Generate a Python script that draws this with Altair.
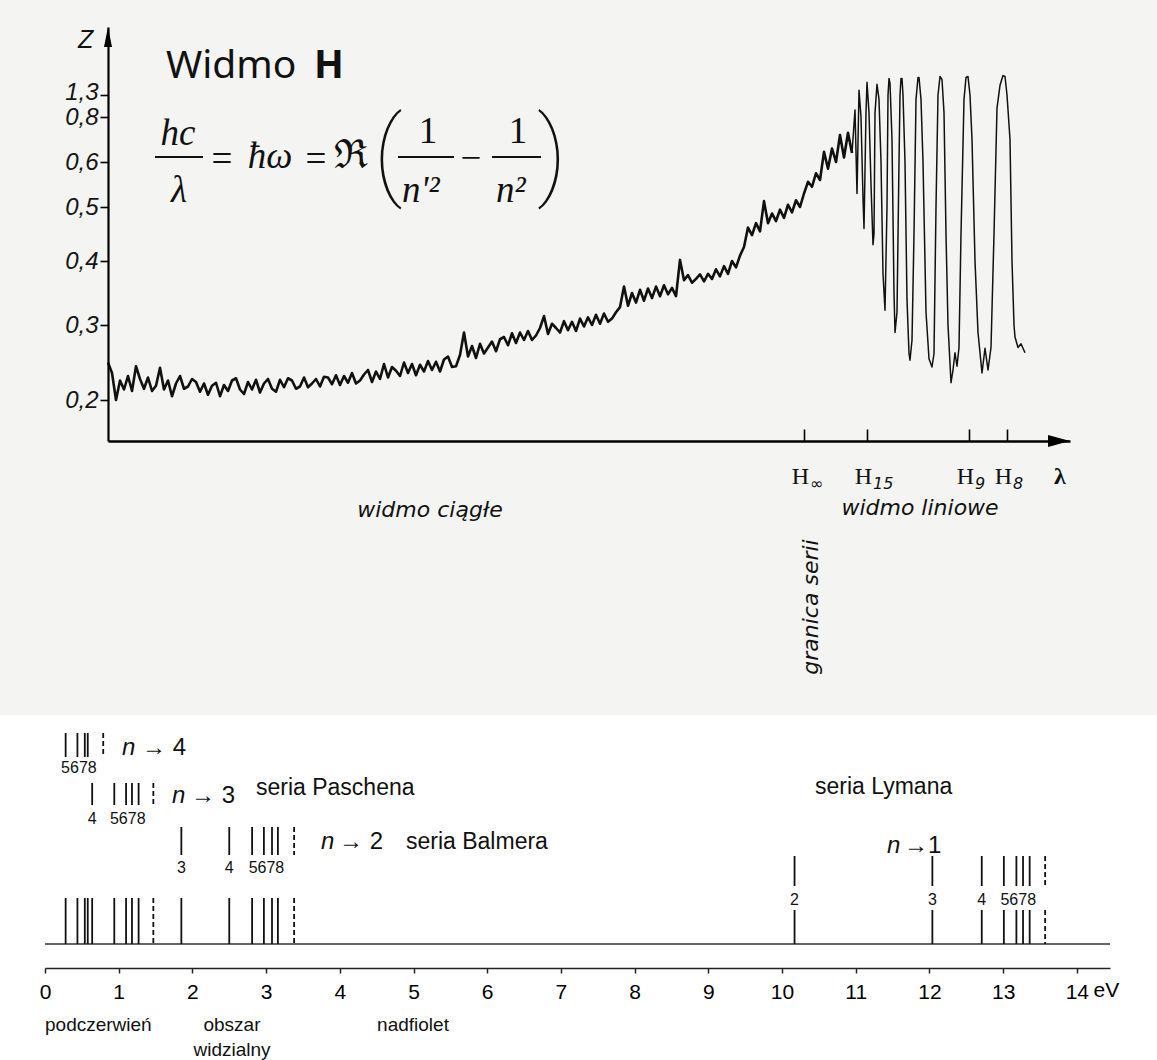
import altair as alt
import pandas as pd

# ---------------- top panel: measured hydrogen spectrum ----------------
# relative wavelength position (arbitrary units along the lambda axis)
cont_lam = list(range(0, 745, 4))
cont_z = [0.250, 0.236, 0.200, 0.226, 0.214, 0.232, 0.212, 0.245, 0.228, 0.215,
          0.230, 0.212, 0.219, 0.243, 0.214, 0.226, 0.205, 0.222, 0.232, 0.215,
          0.218, 0.228, 0.224, 0.211, 0.222, 0.207, 0.219, 0.223, 0.205, 0.220,
          0.212, 0.226, 0.229, 0.214, 0.208, 0.224, 0.214, 0.227, 0.210, 0.222,
          0.228, 0.215, 0.211, 0.227, 0.217, 0.229, 0.226, 0.215, 0.218, 0.230,
          0.217, 0.222, 0.228, 0.218, 0.231, 0.230, 0.221, 0.233, 0.220, 0.232,
          0.223, 0.236, 0.222, 0.226, 0.234, 0.240, 0.224, 0.238, 0.228, 0.248,
          0.230, 0.244, 0.239, 0.232, 0.250, 0.236, 0.248, 0.233, 0.247, 0.238,
          0.252, 0.240, 0.251, 0.238, 0.254, 0.258, 0.244, 0.245, 0.260, 0.290,
          0.258, 0.272, 0.256, 0.275, 0.262, 0.270, 0.278, 0.265, 0.281, 0.284,
          0.273, 0.289, 0.276, 0.290, 0.280, 0.292, 0.280, 0.286, 0.296, 0.314,
          0.288, 0.302, 0.296, 0.290, 0.306, 0.293, 0.305, 0.292, 0.310, 0.298,
          0.312, 0.300, 0.316, 0.302, 0.318, 0.305, 0.310, 0.320, 0.328, 0.360,
          0.330, 0.350, 0.335, 0.355, 0.338, 0.357, 0.342, 0.360, 0.345, 0.362,
          0.348, 0.358, 0.345, 0.402, 0.370, 0.378, 0.366, 0.372, 0.379, 0.368,
          0.380, 0.372, 0.387, 0.376, 0.392, 0.380, 0.400, 0.390, 0.410, 0.426,
          0.462, 0.448, 0.470, 0.455, 0.513, 0.470, 0.488, 0.474, 0.495, 0.480,
          0.505, 0.490, 0.515, 0.500, 0.530, 0.556, 0.545, 0.575, 0.560, 0.645,
          0.585, 0.660, 0.600, 0.720, 0.620, 0.730, 0.640]

line_lam = [744, 747, 749, 751, 753, 755, 756, 758, 759, 761,
            763, 765, 766, 767, 769, 771, 773, 775, 777, 779,
            780, 781, 782, 784, 786, 787, 789, 791, 792, 793,
            794, 795, 797, 799, 801, 802, 804, 806, 808, 810,
            811, 813, 815, 818, 821, 824, 826, 828, 830, 832,
            834, 836, 838, 840, 843, 845, 847, 849, 851, 853,
            856, 858, 860, 862, 864, 867, 870, 874, 877, 880,
            883, 886, 889, 892, 895, 897, 899, 902, 904, 906,
            907, 910, 913, 917]
line_z = [0.64, 0.96, 0.53, 1.35, 0.80, 0.52, 0.46, 0.90, 1.43, 0.90,
          0.55, 0.43, 0.45, 0.90, 1.41, 1.20, 0.60, 0.38, 0.323, 0.50,
          1.30, 1.47, 1.42, 0.70, 0.35, 0.29, 0.32, 0.60, 1.30, 1.47,
          1.47, 1.30, 0.60, 0.34, 0.262, 0.253, 0.28, 0.45, 1.20, 1.48,
          1.48, 1.20, 0.60, 0.32, 0.255, 0.244, 0.262, 0.50, 1.30, 1.49,
          1.46, 0.90, 0.45, 0.30, 0.223, 0.24, 0.263, 0.245, 0.27, 0.45,
          1.20, 1.48, 1.49, 1.30, 0.70, 0.40, 0.29, 0.236, 0.269, 0.24,
          0.27, 0.45, 1.00, 1.40, 1.50, 1.49, 1.30, 0.70, 0.40, 0.30,
          0.284, 0.27, 0.275, 0.263]

z_ticks = [0.2, 0.3, 0.4, 0.5, 0.6, 0.8, 1.3]
h_tick_lam = [696, 759, 861, 899]
h_tick_main = ["H", "H", "H", "H"]
h_tick_sub = ["\u221e", "15", "9", "8"]

# ---------------- bottom panel: hydrogen series (eV) ----------------
brackett_n = [5, 6, 7, 8]
brackett_ev = [0.28, 0.44, 0.54, 0.58]
brackett_lim = [0.79]
paschen_n = [4, 5, 6, 7, 8]
paschen_ev = [0.64, 0.94, 1.10, 1.18, 1.27]
paschen_lim = [1.47]
balmer_n = [3, 4, 5, 6, 7, 8]
balmer_ev = [1.85, 2.50, 2.81, 2.97, 3.08, 3.16]
balmer_lim = [3.38]
lyman_n = [2, 3, 4, 5, 6, 7, 8]
lyman_ev = [10.17, 12.04, 12.71, 13.01, 13.18, 13.27, 13.36]
lyman_lim = [13.57]
ev_ticks = list(range(0, 15))

# ---------------- scales & axes ----------------
lam_scale = alt.Scale(domain=[0, 962], range=[108, 1070], nice=False, zero=False)
lam_axis = alt.Axis(orient="top", offset=-441, values=h_tick_lam, labels=False, title=None,
                    grid=False, domainColor="black", domainWidth=2.6, tickColor="black",
                    tickWidth=1.6, tickSize=12, zindex=2)
z_scale = alt.Scale(domain=[0.145, 0.2, 0.3, 0.4, 0.5, 0.6, 0.8, 1.3, 2.0],
                    range=[441, 400, 325, 261, 207, 162, 117, 95, 27], nice=False, zero=False)
z_axis = alt.Axis(orient="left", offset=-108, values=z_ticks, title=None, grid=False,
                  labelExpr="replace(format(datum.value, '.1f'), '.', ',')",
                  domainColor="black", domainWidth=2.2, tickColor="black", tickWidth=1.6,
                  tickSize=8, labelFont="Liberation Sans Narrow, Liberation Sans",
                  labelFontStyle="italic", labelFontSize=24, labelColor="#151515",
                  labelPadding=2, labelOverlap=False, labelFlush=False, labelBaseline="middle",
                  labelOffset={"condition": {"test": "datum.value > 1", "value": -3},
                               "value": 0},
                  zindex=2)
X_lam = alt.X("lam:Q", scale=lam_scale, axis=lam_axis)
Y_z = alt.Y("z:Q", scale=z_scale, axis=z_axis)

ev_scale = alt.Scale(domain=[0, 14.45], range=[45, 1110], nice=False, zero=False)
ev_axis = alt.Axis(orient="bottom", offset=-92, values=ev_ticks, title=None, grid=False,
                   domainColor="#222", domainWidth=1.6, tickColor="#222", tickWidth=1.5,
                   tickSize=5, labelFont="Liberation Sans", labelFontSize=21,
                   labelColor="black", labelPadding=8, labelOverlap=False, labelFlush=False,
                   zindex=2)
X_ev = alt.X("ev:Q", scale=ev_scale, axis=ev_axis)

one = pd.DataFrame({"k": [0]})


def txt(s, x, y, size, font="Liberation Sans", style="normal", weight="normal",
        align="left", baseline="alphabetic", angle=0, color="#111"):
    return alt.Chart(one).mark_text(
        text=s, font=font, fontSize=size, fontStyle=style, fontWeight=weight,
        align=align, baseline=baseline, angle=angle, color=color
    ).encode(x=alt.value(x), y=alt.value(y))


def hbar(x1, x2, y, w=1.8):
    return alt.Chart(one).mark_rule(color="#111", strokeWidth=w).encode(
        x=alt.value(x1), x2=alt.value(x2), y=alt.value(y))


# background paper tone for the scanned upper part
bg = alt.Chart(one).mark_rect(color="#f4f4f2").encode(
    x=alt.value(0), x2=alt.value(1157), y=alt.value(0), y2=alt.value(715))

cont_df = pd.DataFrame({"lam": cont_lam, "z": cont_z})
line_df = pd.DataFrame({"lam": line_lam, "z": line_z})
htick_df = pd.DataFrame({"lam": h_tick_lam, "main": h_tick_main, "sub": h_tick_sub})

cont = alt.Chart(cont_df).mark_line(color="#111", strokeWidth=2.6, strokeJoin="round").encode(x=X_lam, y=Y_z)
lines = alt.Chart(line_df).mark_line(color="#111", strokeWidth=1.5, strokeJoin="round").encode(x=X_lam, y=Y_z)
arrow_up = alt.Chart(pd.DataFrame({"lam": [0], "z": [2.0]})).mark_point(
    shape="M0,-1L0.4,1L-0.4,1Z", size=400, filled=True, color="black", opacity=1, yOffset=10
).encode(x=X_lam, y=Y_z)
arrow_right = alt.Chart(pd.DataFrame({"lam": [962], "z": [0.145]})).mark_point(
    shape="M1,0L-1,-0.55L-1,0.55Z", size=484, filled=True, color="black", opacity=1, xOffset=-11
).encode(x=X_lam, y=Y_z)
hmain = alt.Chart(htick_df).mark_text(font="Liberation Serif", fontSize=24, align="right",
                                      dx=5, color="#111").encode(x=X_lam, y=alt.value(477), text="main:N")
hsub = alt.Chart(htick_df).mark_text(font="DejaVu Sans", fontStyle="italic", fontSize=16,
                                     align="left", dx=6, color="#111").encode(x=X_lam, y=alt.value(484), text="sub:N")
lam_lbl = alt.Chart(pd.DataFrame({"lam": [952]})).mark_text(
    text="\u03bb", font="Liberation Serif", fontSize=24, fontWeight="bold", color="#111"
).encode(x=X_lam, y=alt.value(477))

spectrum = alt.layer(cont, lines, arrow_up, arrow_right, hmain, hsub, lam_lbl)

# ---------------- energy diagram layers ----------------
def rules(evs, y1, y2, dashed=False, w=1.8):
    kw = {"strokeDash": [5, 3]} if dashed else {}
    return alt.Chart(pd.DataFrame({"ev": evs})).mark_rule(color="#111", strokeWidth=w, **kw).encode(
        x=X_ev, y=alt.value(y1), y2=alt.value(y2))


def nums(evs, labels, y, size=16):
    return alt.Chart(pd.DataFrame({"ev": evs, "t": labels})).mark_text(
        font="Liberation Sans", fontSize=size, baseline="middle", color="#111"
    ).encode(x=X_ev, y=alt.value(y), text="t:N")


def mean(v):
    return sum(v) / len(v)


baseline = alt.Chart(pd.DataFrame({"ev": [0], "ev2": [14.45]})).mark_rule(
    color="#333", strokeWidth=1.6).encode(x=X_ev, x2="ev2:Q", y=alt.value(944))

energy_layers = [
    baseline,
    rules(brackett_ev + paschen_ev + balmer_ev, 898, 944),
    rules(paschen_lim + balmer_lim, 898, 944, dashed=True),
    rules(lyman_ev, 856, 886),
    rules(lyman_ev, 910, 944),
    rules(lyman_lim, 856, 886, dashed=True),
    rules(lyman_lim, 910, 944, dashed=True),
    nums([lyman_ev[0], lyman_ev[1], lyman_ev[2], mean(lyman_ev[3:])],
         ["2", "3", "4", "5678"], 900),
    # n -> 4
    rules(brackett_ev, 733, 757),
    rules(brackett_lim, 733, 757, dashed=True),
    nums([mean(brackett_ev)], ["5678"], 768),
    # n -> 3
    rules(paschen_ev, 783, 805),
    rules(paschen_lim, 783, 805, dashed=True),
    nums([paschen_ev[0], mean(paschen_ev[1:])], ["4", "5678"], 819),
    # n -> 2
    rules(balmer_ev, 827, 855),
    rules(balmer_lim, 827, 855, dashed=True),
    nums([balmer_ev[0], balmer_ev[1], mean(balmer_ev[2:])], ["3", "4", "5678"], 868),
    alt.Chart(pd.DataFrame({"ev": [14.4]})).mark_text(
        text="eV", font="Liberation Sans", fontSize=21, baseline="middle", color="black"
    ).encode(x=X_ev, y=alt.value(991)),
]
energy = alt.layer(*energy_layers)

serif = "Liberation Serif, DejaVu Serif"
texts = [
    txt("Z", 78, 48, 25, font="Liberation Sans Narrow, Liberation Sans", style="italic"),
    txt("Widmo", 166, 78, 39, font="Noto Sans"),
    txt("H", 314, 78, 39, font="Noto Sans", weight="bold"),
    # formula  hc/λ = ħω = ℜ(1/n'² − 1/n²)
    txt("hc", 178, 145, 37, font=serif, style="italic", align="center"),
    hbar(155, 203, 157),
    txt("\u03bb", 179, 202, 37, font=serif, style="italic", align="center"),
    txt("=", 222, 171, 37, font=serif, align="center"),
    txt("\u0127\u03c9", 270, 168, 37, font=serif, style="italic", align="center"),
    txt("=", 316, 171, 37, font=serif, align="center"),
    txt("\u211c", 351, 168, 40, font=serif, align="center"),
    txt("(", 388, 158, 98, font="Roboto", weight=100, align="center", baseline="middle"),
    txt("1", 428, 143, 37, font=serif, align="center"),
    hbar(398, 454, 157),
    txt("n'\u00b2", 402, 202, 37, font=serif, style="italic"),
    txt("\u2212", 471, 170, 37, font=serif, align="center"),
    txt("1", 518, 143, 37, font=serif, align="center"),
    hbar(492, 541, 157),
    txt("n\u00b2", 496, 202, 37, font=serif, style="italic"),
    txt(")", 552, 158, 98, font="Roboto", weight=100, align="center", baseline="middle"),
    # spectrum annotations
    txt("widmo ci\u0105g\u0142e", 430, 517, 22, font="DejaVu Sans", style="italic", align="center"),
    txt("widmo liniowe", 920, 515, 22, font="DejaVu Sans", style="italic", align="center"),
    txt("granica serii", 811, 607, 22, font="DejaVu Sans", style="italic", align="center",
        baseline="middle", angle=270),
    # series labels
    txt("n", 122, 748, 24, style="italic", baseline="middle"),
    txt("\u2192 4", 142, 748, 24, baseline="middle"),
    txt("n", 172, 796, 24, style="italic", baseline="middle"),
    txt("\u2192 3", 191, 796, 24, baseline="middle"),
    txt("seria Paschena", 256, 788, 23, baseline="middle"),
    txt("n", 321, 842, 24, style="italic", baseline="middle"),
    txt("\u2192 2", 339, 842, 24, baseline="middle"),
    txt("seria Balmera", 406, 842, 23, baseline="middle"),
    txt("seria Lymana", 815, 787, 23, baseline="middle"),
    txt("n", 887, 846, 24, style="italic", baseline="middle"),
    txt("\u21921", 904, 846, 24, baseline="middle"),
    # spectral regions
    txt("podczerwie\u0144", 45, 1025, 19, baseline="middle"),
    txt("obszar", 232, 1025, 19, align="center", baseline="middle"),
    txt("widzialny", 232, 1050, 19, align="center", baseline="middle"),
    txt("nadfiolet", 413, 1025, 19, align="center", baseline="middle"),
]

chart = alt.layer(bg, spectrum, energy, *texts).resolve_scale(
    x="independent"
).properties(
    width=1157, height=1060, padding=0,
    autosize=alt.AutoSizeParams(type="none"), background="white"
).configure_view(stroke=None)

chart.save("out.html", embed_options={"renderer": "svg", "actions": False})
